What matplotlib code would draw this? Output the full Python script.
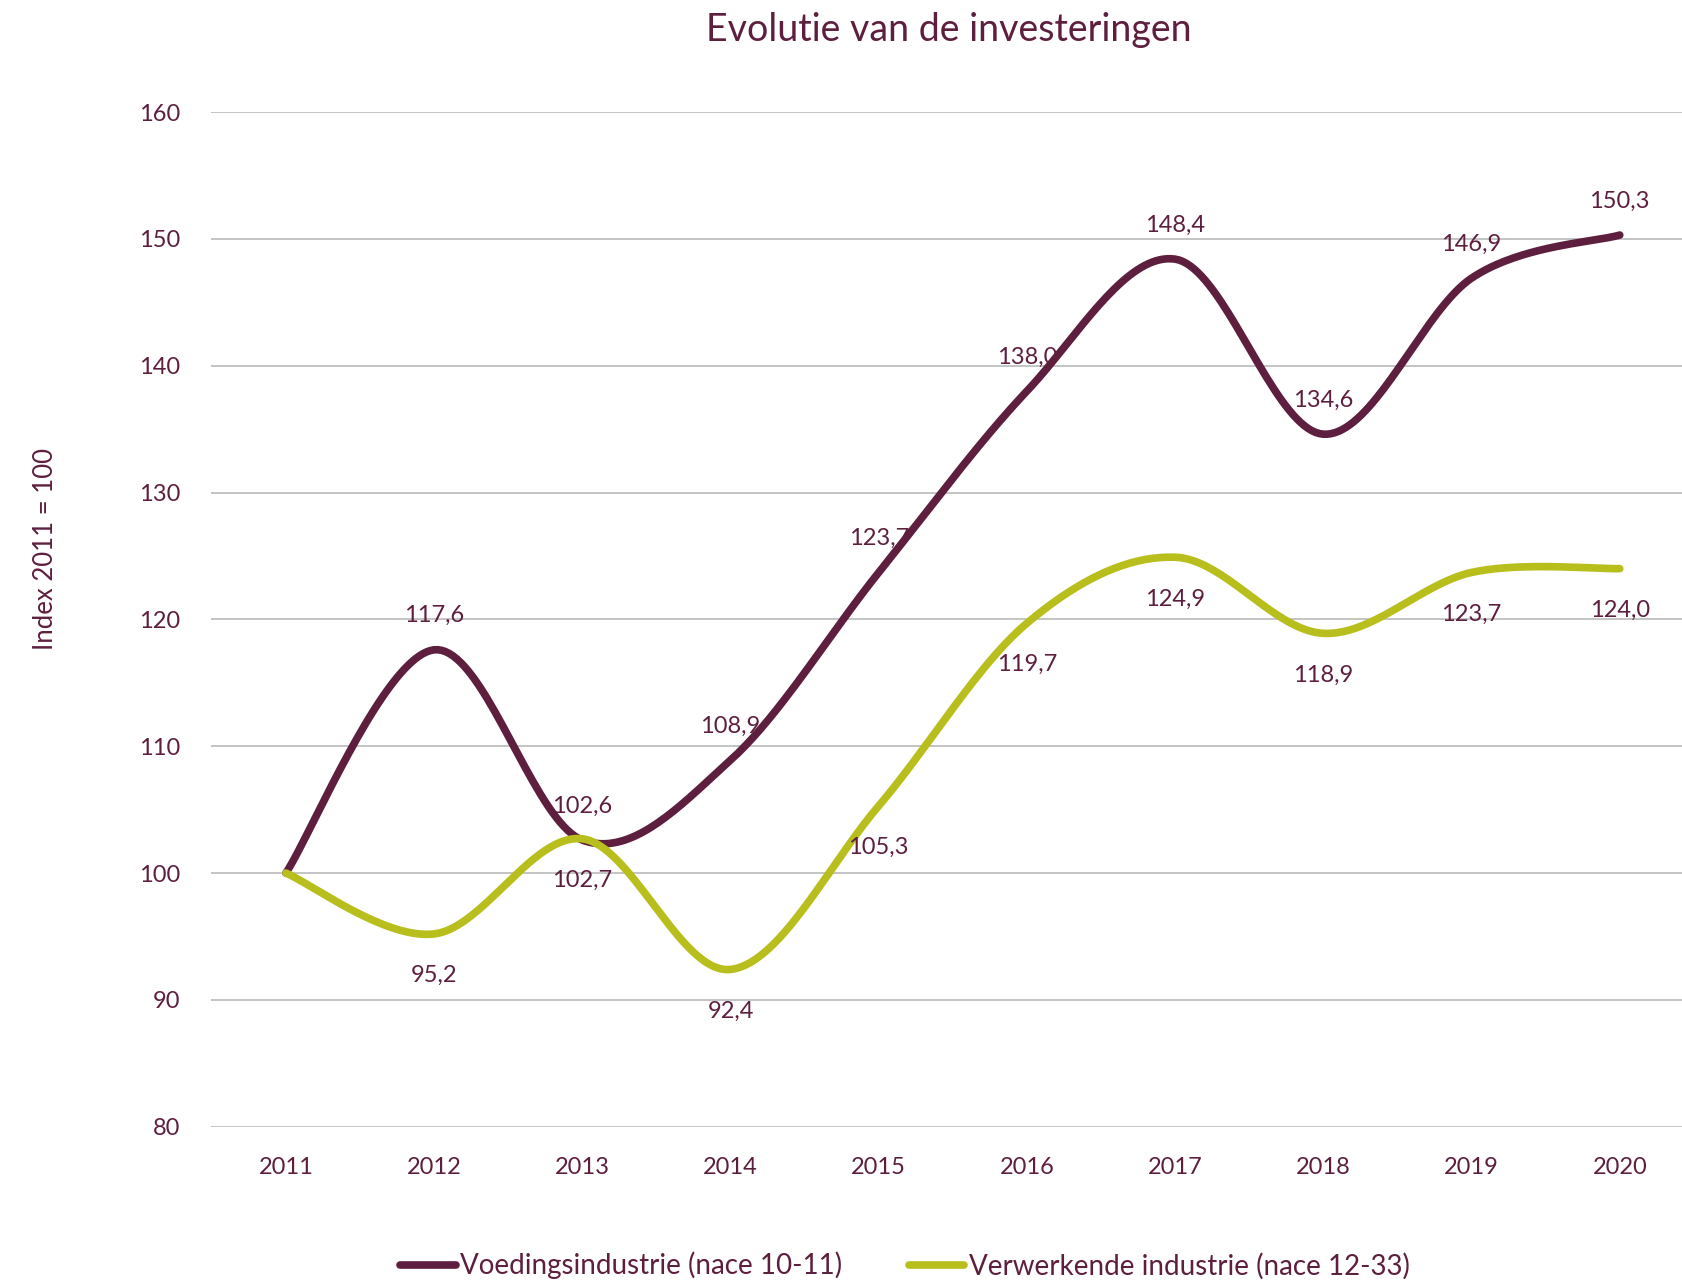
import numpy as np
import matplotlib.pyplot as plt

plt.rcParams['font.family'] = ['Lato', 'DejaVu Sans']

years = ["2011", "2012", "2013", "2014", "2015", "2016", "2017", "2018", "2019", "2020"]
voeding = [100.0, 117.6, 102.6, 108.9, 123.7, 138.0, 148.4, 134.6, 146.9, 150.3]
verwerkende = [100.0, 95.2, 102.7, 92.4, 105.3, 119.7, 124.9, 118.9, 123.7, 124.0]

purple = "#5E1F3F"
green = "#B8BE1C"
grid = "#BFBFBF"


def smooth(x, y, n=40):
    # Excel-like smoothed line: cubic Bezier with Catmull-Rom control points
    x = np.asarray(x, float)
    y = np.asarray(y, float)
    px = np.concatenate([[x[0]], x, [x[-1]]])
    py = np.concatenate([[y[0]], y, [y[-1]]])
    t = np.linspace(0, 1, n)
    xs, ys = [], []
    for i in range(1, len(px) - 2):
        p0 = np.array([px[i], py[i]])
        p3 = np.array([px[i + 1], py[i + 1]])
        c1 = p0 + (p3 - np.array([px[i - 1], py[i - 1]])) / 6
        c2 = p3 - (np.array([px[i + 2], py[i + 2]]) - p0) / 6
        b = (np.outer((1 - t) ** 3, p0) + np.outer(3 * (1 - t) ** 2 * t, c1)
             + np.outer(3 * (1 - t) * t ** 2, c2) + np.outer(t ** 3, p3))
        xs.append(b[:, 0])
        ys.append(b[:, 1])
    return np.concatenate(xs), np.concatenate(ys)


fig = plt.figure(figsize=(16.82, 12.83), dpi=100)
ax = fig.add_axes([0.1254, 0.1218, 0.8746, 0.7909])

x = np.arange(len(years))
sx, sy = smooth(x, voeding)
ax.plot(sx, sy, color=purple, lw=5.5, solid_capstyle="round",
        label="Voedingsindustrie (nace 10-11)", zorder=3)
sx, sy = smooth(x, verwerkende)
ax.plot(sx, sy, color=green, lw=5.5, solid_capstyle="round",
        label="Verwerkende industrie (nace 12-33)", zorder=3)

for i in range(1, len(years)):
    ax.annotate(f"{voeding[i]:.1f}".replace(".", ","), (x[i], voeding[i]),
                xytext=(0, 24.5), textcoords="offset points", ha="center", va="center",
                fontsize=17, color=purple, zorder=4)
    ax.annotate(f"{verwerkende[i]:.1f}".replace(".", ","), (x[i], verwerkende[i]),
                xytext=(0, -30), textcoords="offset points", ha="center", va="center",
                fontsize=17, color=purple, zorder=4)

ax.set_xlim(-0.506, 9.42)
ax.set_ylim(80, 160)
ax.set_yticks(range(80, 161, 10))
ax.set_xticks(x)
ax.set_xticklabels(years)
ax.grid(axis="y", color=grid, lw=1.3)
ax.set_axisbelow(True)
for s in ax.spines.values():
    s.set_visible(False)
ax.tick_params(length=0, labelsize=17, labelcolor=purple)
ax.tick_params(axis="y", pad=22)
ax.tick_params(axis="x", pad=22)

fig.text(0.027, 0.572, "Index 2011 = 100", rotation=90, ha="center", va="center",
         fontsize=18.5, color=purple)
fig.text(0.564, 0.977, "Evolutie van de investeringen", ha="center", va="center",
         fontsize=27, color=purple)

fig.legend(loc="center", bbox_to_anchor=(0.538, 0.0135), ncol=2, frameon=False,
           fontsize=20, labelcolor=purple, handlelength=2.0, handletextpad=0.15,
           columnspacing=2.4)

fig.savefig("out.png", dpi=100)
